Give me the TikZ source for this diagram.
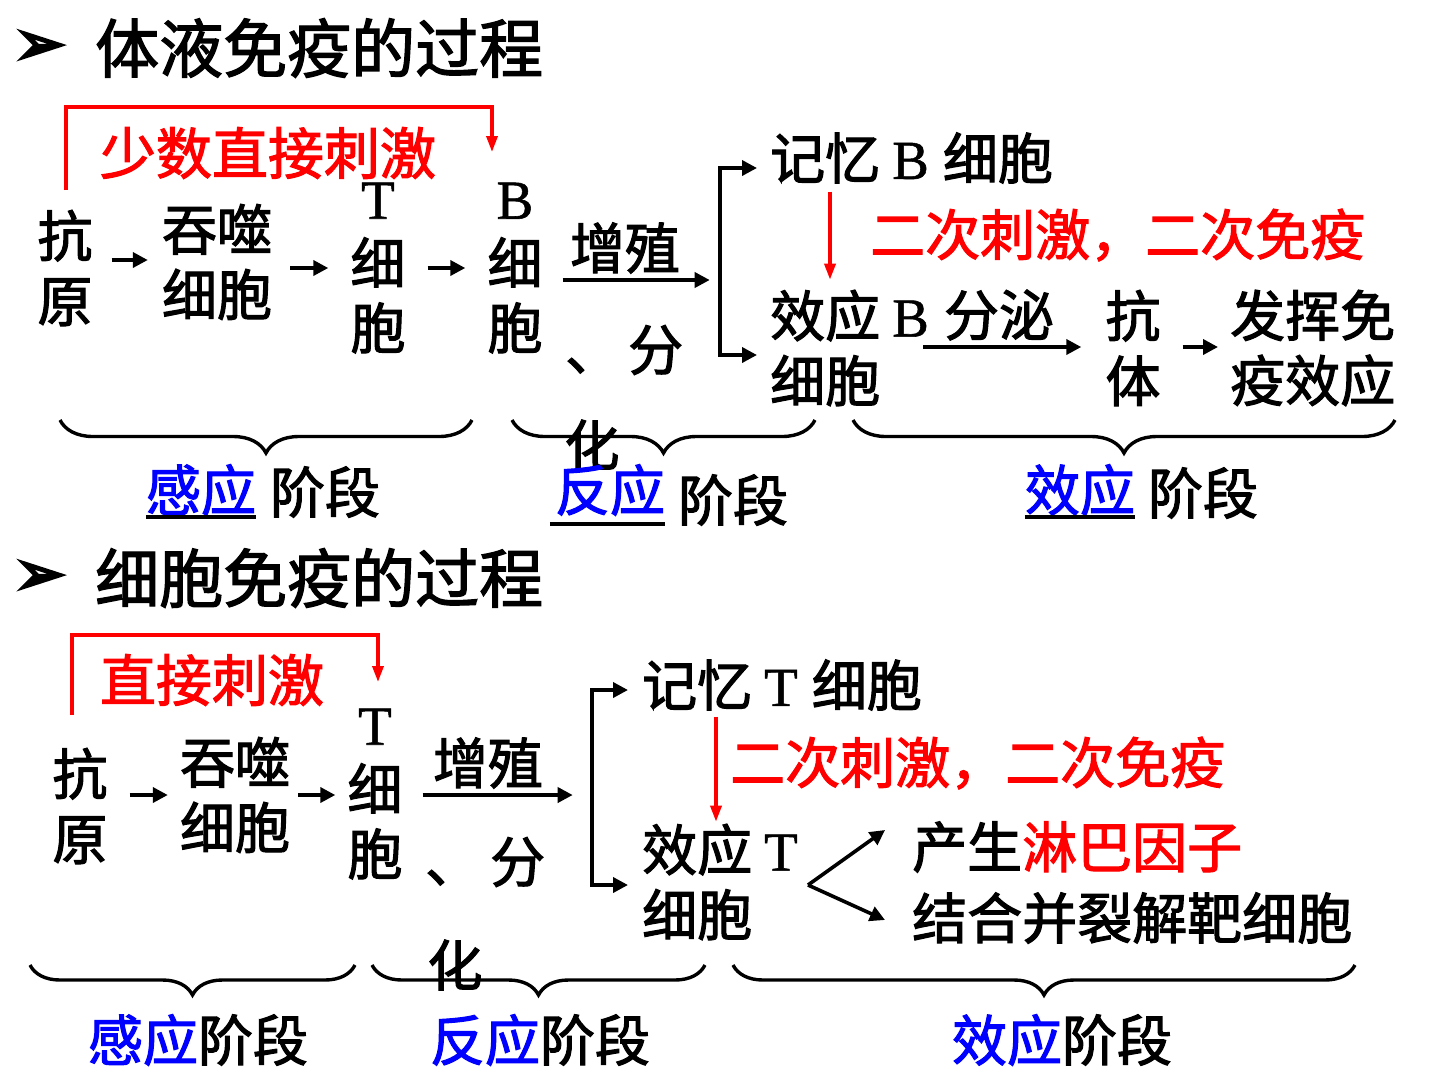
\documentclass[tikz,border=0pt]{standalone}
\usepackage{fontspec}
\setmainfont{Noto Sans CJK SC}[FakeBold=2]
\newfontfamily\ser{Liberation Serif}[FakeBold=1]
\newfontfamily\dv{DejaVu Sans}[FakeBold=4]
\usetikzlibrary{arrows.meta,decorations.pathreplacing,calc}
\definecolor{rd}{RGB}{255,0,0}
\definecolor{bl}{RGB}{0,0,255}
\begin{document}
\begin{tikzpicture}[x=1pt,y=-1pt,
 txt/.style={inner sep=0pt, font=\fontsize{55}{65}\selectfont, align=center},
 ttl/.style={inner sep=0pt, font=\fontsize{64}{70}\selectfont, anchor=west},
 bul/.style={inner sep=0pt, font=\dv\fontsize{62}{66}\selectfont},
 rtxt/.style={txt, text=rd},
 arr/.style={line width=3.6pt, -{Triangle[length=15pt,width=15pt]}},
 rarr/.style={line width=3.4pt, draw=rd, -{Triangle[length=16pt,width=11pt]}, fill=none},
 brc/.style={line width=3.4pt, decorate, decoration={brace, mirror, amplitude=33pt}},
 brc2/.style={line width=3.4pt, decorate, decoration={brace, mirror, amplitude=30pt}},
 ul/.style={line width=3.4pt},
]
\useasboundingbox (0,0) rectangle (1440,1080);
\fill[white] (0,0) rectangle (1440,1080);

% ===== top section =====
\node[bul] (bu1) at (40,48) {➢};
\node[ttl] (t1) at (95,48) {体液免疫的过程};
\node[rtxt, font=\fontsize{56}{65}\selectfont] (r1) at (268,153) {少数直接刺激};

\node[txt] (ag1) at (65,268) {抗\\原};
\node[txt] (ph1) at (217,262) {吞噬\\细胞};
\node[txt] (tc1) at (378,268) {{\ser T}\\细\\胞};
\node[txt] (bc1) at (515,268) {{\ser B}\\细\\胞};
\node[txt] (zz1) at (625,248) {增殖};
\node[txt, anchor=west] (fen1) at (565,350) {、\kern8pt 分};
\node[txt] (hua1) at (592,445) {化};

\coordinate (rs1) at (66,190);
\coordinate (re1) at (492,152);
\draw[rarr] (rs1) -- ++(0,-83) -| (re1);

\draw[arr] ($(ag1.east)+(19,-8)$) -- ($(ph1.west)+(-14,-2)$);
\draw[arr] ($(ph1.east)+(18,6)$) -- ($(tc1.west)+(-22,0)$);
\draw[arr] ($(tc1.east)+(22,0)$) -- ($(bc1.west)+(-22,0)$);
\draw[arr] ($(bc1.east)+(20,12)$) -- ++(147,0);

\node[txt, anchor=west] (memB) at (770,158) {记忆\kern12pt{\ser B}\kern14pt细胞};
\node[txt, anchor=west, align=left] (effB) at (770,348) {效应\kern12pt{\ser B}\\细胞};
\coordinate (vt1) at (720,168);
\coordinate (vb1) at (720,355);
\draw[arr, shorten >=13pt] (vb1) -- (vt1) -- (vt1 -| memB.west);
\draw[arr, shorten >=13pt] (vt1) -- (vb1) -- (vb1 -| effB.west);

\draw[rarr] ($(memB.south west)+(60,8)$) -- ($(effB.north west)+(60,-10)$);
\node[rtxt, anchor=west] (e1) at (870,235) {二次刺激，二次免疫};

\node[txt] (fm1) at (999,315) {分泌};
\node[txt] (ab1) at (1133,348) {抗\\体};
\node[txt, anchor=west, align=left] (eff1) at (1230,348) {发挥免\\疫效应};
\draw[arr] ($(effB.east)+(-6,-1)$) -- ($(ab1.west)+(-24,-1)$);
\draw[arr] ($(ab1.east)+(22,-1)$) -- ($(eff1.west)+(-12,-1)$);

\coordinate (b1a) at (60,420);  \coordinate (b1b) at (472,420);
\coordinate (b2a) at (512,420); \coordinate (b2b) at (815,420);
\coordinate (b3a) at (853,420); \coordinate (b3b) at (1395,420);
\draw[brc] (b1a) -- (b1b);
\draw[brc] (b2a) -- (b2b);
\draw[brc] (b3a) -- (b3b);

\node[txt, text=bl] (s1a) at (201,490) {感应};
\node[txt] (s1b) at (325,492) {阶段};
\draw[ul] ([yshift=-1pt]s1a.south west) -- ([yshift=-1pt]s1a.south east);
\node[txt, text=bl] (s2a) at (610,490) {反应};
\node[txt] (s2b) at (733,500) {阶段};
\draw[ul] ([xshift=-5pt,yshift=-8pt]s2a.south west) -- ([yshift=-8pt]s2a.south east);
\node[txt, text=bl] (s3a) at (1080,490) {效应};
\node[txt] (s3b) at (1203,493) {阶段};
\draw[ul] ([yshift=-1pt]s3a.south west) -- ([yshift=-1pt]s3a.south east);

% ===== bottom section =====
\node[bul] (bu2) at (40,578) {➢};
\node[ttl] (t2) at (95,578) {细胞免疫的过程};
\node[rtxt, font=\fontsize{56}{65}\selectfont] (r2) at (212,680) {直接刺激};

\node[txt] (ag2) at (80,806) {抗\\原};
\node[txt] (ph2) at (235,795) {吞噬\\细胞};
\node[txt] (tc2) at (375,794) {{\ser T}\\细\\胞};
\node[txt] (zz2) at (488,763) {增殖};
\node[txt, anchor=west] (fen2) at (425,862) {、\kern10pt 分};
\node[txt] (hua2) at (455,965) {化};

\coordinate (rs2) at (72,715);
\coordinate (re2) at (378,682);
\draw[rarr] (rs2) -- ++(0,-80) -| (re2);

\draw[arr] ($(ag2.east)+(22,-11)$) -- ($(ph2.west)+(-12,0)$);
\draw[arr] ($(ph2.east)+(8,0)$) -- ($(tc2.west)+(-12,1)$);
\draw[arr] ($(tc2.east)+(20,1)$) -- ++(150,0);

\node[txt, anchor=west] (memT) at (642,685) {记忆\kern12pt{\ser T}\kern14pt细胞};
\node[txt, anchor=west, align=left] (effT) at (642,882) {效应\kern12pt{\ser T}\\细胞};
\coordinate (vt2) at (592,690);
\coordinate (vb2) at (592,885);
\draw[arr, shorten >=14pt] (vb2) -- (vt2) -- (vt2 -| memT.west);
\draw[arr, shorten >=14pt] (vt2) -- (vb2) -- (vb2 -| effT.west);

\draw[rarr] ($(memT.south west)+(74,6)$) -- ($(effT.north west)+(74,-2)$);
\node[rtxt, anchor=west] (e2) at (730,763) {二次刺激，二次免疫};

\node[txt, anchor=west] (ly) at (912,847) {产生\textcolor{rd}{淋巴因子}};
\node[txt, anchor=west] (kill) at (912,918) {结合并裂解靶细胞};
\coordinate (fork) at ($(effT.east)+(10,3)$);
\draw[arr] (fork) -- ($(ly.west)+(-27,-17)$);
\draw[arr] (fork) -- ($(kill.west)+(-27,2)$);

\coordinate (b4a) at (30,965);  \coordinate (b4b) at (355,965);
\coordinate (b5a) at (372,965); \coordinate (b5b) at (705,965);
\coordinate (b6a) at (733,965); \coordinate (b6b) at (1355,965);
\draw[brc2] (b4a) -- (b4b);
\draw[brc2] (b5a) -- (b5b);
\draw[brc2] (b6a) -- (b6b);

\node[txt] (s4) at (198,1040) {\textcolor{bl}{感应}阶段};
\node[txt] (s5) at (540,1040) {\textcolor{bl}{反应}阶段};
\node[txt] (s6) at (1062,1040) {\textcolor{bl}{效应}阶段};
\end{tikzpicture}
\end{document}
